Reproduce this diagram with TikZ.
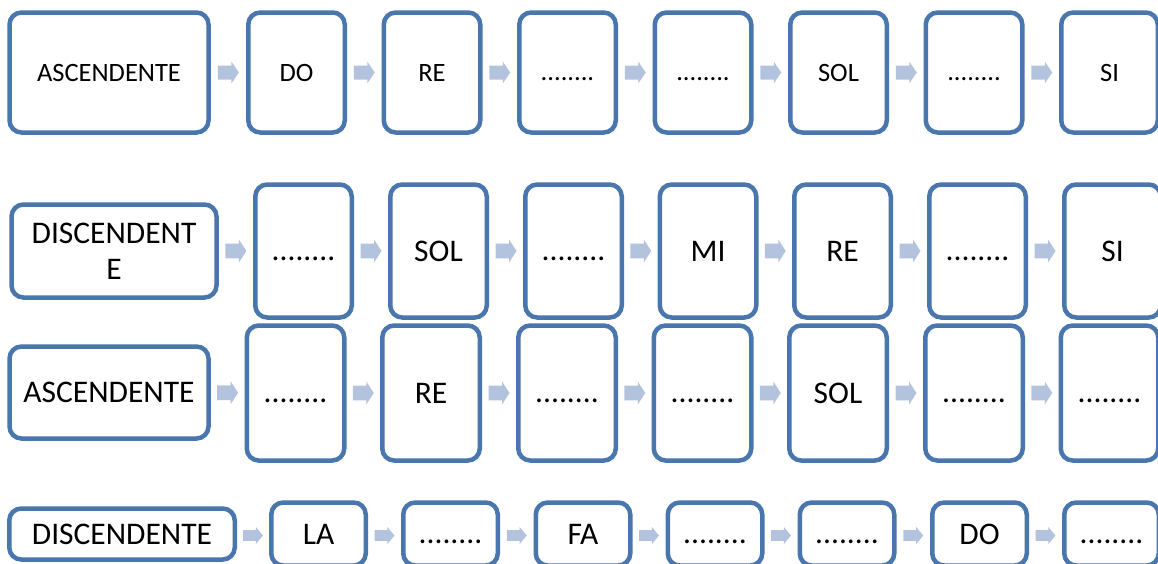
\documentclass[tikz,border=0pt]{standalone}
\usepackage{fontspec}
\setmainfont{Carlito}
\usetikzlibrary{calc}
\definecolor{boxline}{HTML}{4A76AE}
\definecolor{arrowfill}{HTML}{B3C3DE}
\newcommand{\gapdots}{\vphantom{D}........}
\tikzset{
  bx/.style={draw=boxline, line width=4.5pt, rounded corners=12pt, fill=white, inner sep=0pt, align=center, text=black},
  small/.style={font=\fontsize{26.5}{31}\selectfont},
  big/.style={font=\fontsize{31.5}{36}\selectfont},
  flow/.pic={\fill[arrowfill] (-10.5,-7) -- (3,-7) -- (3,-11) -- (10.5,0) -- (3,11) -- (3,7) -- (-10.5,7) -- cycle;}
}
\begin{document}
\begin{tikzpicture}[x=1pt,y=-1pt]
\useasboundingbox (0,0) rectangle (1158,563);
% Row 1
\begin{scope}[every node/.style={bx, small, minimum height=120pt, minimum width=96.5pt}]
\node[minimum width=199pt] (r1a) at (109,72.5) {ASCENDENTE};
\node (r1b) at (296.5,72.5) {DO};
\node (r1c) at (432,72.5) {RE};
\node (r1d) at (567.5,72.5) {\gapdots};
\node (r1e) at (703,72.5) {\gapdots};
\node (r1f) at (838.5,72.5) {SOL};
\node (r1g) at (974,72.5) {\gapdots};
\node (r1h) at (1109.5,72.5) {SI};
\end{scope}
% Row 2
\begin{scope}[every node/.style={bx, big, minimum height=133pt, minimum width=96.5pt}]
\node[minimum width=205pt, minimum height=93pt] (r2a) at (114,251) {DISCENDENT\\E};
\node (r2b) at (303.5,251) {\gapdots};
\node (r2c) at (438.5,251) {SOL};
\node (r2d) at (573.5,251) {\gapdots};
\node (r2e) at (708,251) {MI};
\node (r2f) at (842.5,251) {RE};
\node (r2g) at (977.5,251) {\gapdots};
\node (r2h) at (1112.5,251) {SI};
\end{scope}
% Row 3
\begin{scope}[every node/.style={bx, big, minimum height=135pt, minimum width=97.5pt}]
\node[minimum width=199pt, minimum height=92pt] (r3a) at (109,392.5) {ASCENDENTE};
\node (r3b) at (295.5,393) {\gapdots};
\node (r3c) at (431,393) {RE};
\node (r3d) at (567,393) {\gapdots};
\node (r3e) at (702.5,393) {\gapdots};
\node (r3f) at (838,393) {SOL};
\node (r3g) at (974,393) {\gapdots};
\node (r3h) at (1109.5,393) {\gapdots};
\end{scope}
% Row 4
\begin{scope}[every node/.style={bx, big, minimum height=63pt, minimum width=94.5pt}]
\node[minimum width=225.5pt, minimum height=51pt] (r4a) at (122,534) {DISCENDENTE};
\node (r4b) at (318.5,534) {LA};
\node (r4c) at (450.5,534) {\gapdots};
\node (r4d) at (583,534) {FA};
\node (r4e) at (715,534) {\gapdots};
\node (r4f) at (847,534) {\gapdots};
\node (r4g) at (979.5,534) {DO};
\node (r4h) at (1111.5,534) {\gapdots};
\end{scope}
% Arrows
\foreach \a/\b in {a/b,b/c,c/d,d/e,e/f,f/g,g/h}{
  \pic at ($(r1\a.east)!0.5!(r1\b.west)$) {flow};
  \pic[yscale=1.05] at ($(r2\a.east)!0.5!(r2\b.west)$) {flow};
  \pic[yscale=1.05] at ($(r3\a.east)!0.5!(r3\b.west)$) {flow};
  \pic[xscale=0.95, yscale=0.78] at ($(r4\a.east)!0.5!(r4\b.west)+(0,1.5)$) {flow};
}
\end{tikzpicture}
\end{document}
